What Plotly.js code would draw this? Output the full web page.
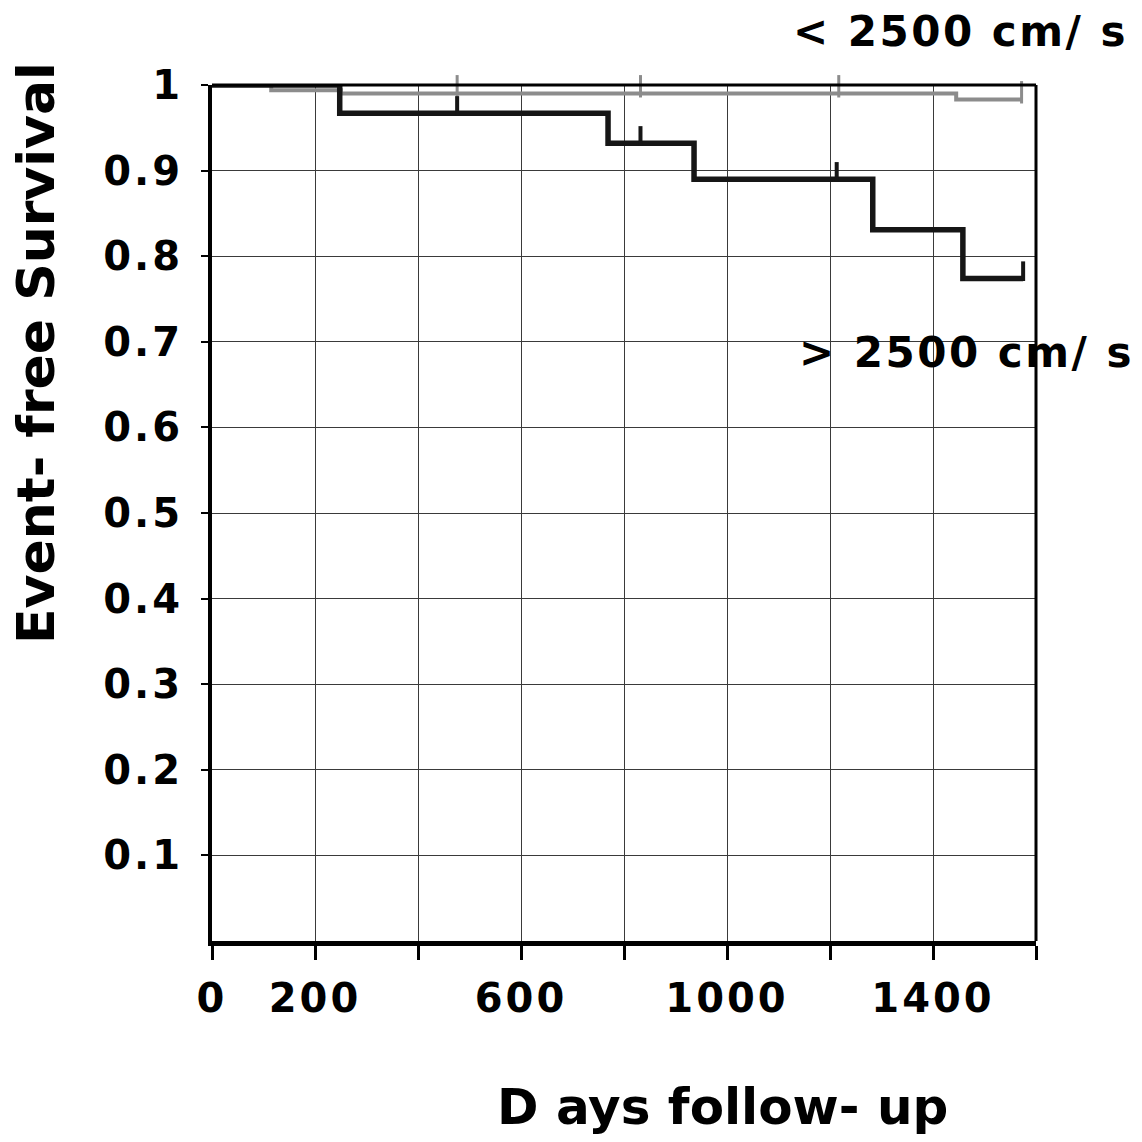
<!DOCTYPE html>
<html>
<head>
<meta charset="utf-8">
<script src="https://cdn.plot.ly/plotly-3.0.1.min.js"></script>
<style>
  html, body { margin: 0; padding: 0; background: #fff; }
  #chart { width: 1142px; height: 1142px; }
  .xtick text, .ytick text { letter-spacing: 3px; }
  .annotation[data-index="0"] text, .annotation[data-index="1"] text { letter-spacing: 2.5px; }
</style>
</head>
<body>
<div id="chart"></div>
<script>
// ---- data ----
// > 2500 cm/s group (dark step curve)
const highTimes = [0, 248, 769, 936, 1283, 1458, 1575];
const highSurv  = [1.0, 0.967, 0.932, 0.890, 0.831, 0.774, 0.774];
const highCensorTimes = [476, 832, 1213, 1575];
const highCensorSurv  = [0.967, 0.932, 0.890, 0.774];

// < 2500 cm/s group (grey step curve)
const lowTimes = [0, 115, 250, 1445, 1572];
const lowSurv  = [1.0, 0.994, 0.990, 0.983, 0.983];
const lowCensorTimes = [476, 832, 1217, 1572];
const lowCensorSurv  = [0.990, 0.990, 0.990, 0.983];

// axis ticks
const xTickVals = [0, 200, 400, 600, 800, 1000, 1200, 1400, 1600];
const xTickText = ['0', '200', '', '600', '', '1000', '', '1400', ''];
const yTickVals = [0.1, 0.2, 0.3, 0.4, 0.5, 0.6, 0.7, 0.8, 0.9, 1.0];
const yTickText = ['0.1', '0.2', '0.3', '0.4', '0.5', '0.6', '0.7', '0.8', '0.9', '1'];

const labelLow = '< 2500 cm/ s';
const labelHigh = '> 2500 cm/ s';
const xTitle = 'D ays follow- up';
const yTitle = 'Event- free Survival';

// ---- styling ----
const DARK = '#161616';
const GREY = '#8c8c8c';
const censorLift = 0.0085; // censor tick drawn upward from the curve

const font = { family: 'DejaVu Sans, Liberation Sans, Arial, sans-serif', weight: 700, color: '#000' };

const traces = [
  {
    x: lowTimes, y: lowSurv, type: 'scatter', mode: 'lines',
    line: { shape: 'hv', color: GREY, width: 4 }, hoverinfo: 'skip'
  },
  {
    x: lowCensorTimes, y: lowCensorSurv.map(v => v + censorLift), type: 'scatter', mode: 'markers',
    marker: { symbol: 'line-ns-open', size: 16, color: GREY, line: { color: GREY, width: 3 } },
    cliponaxis: false, hoverinfo: 'skip'
  },
  {
    x: highTimes, y: highSurv, type: 'scatter', mode: 'lines',
    line: { shape: 'hv', color: DARK, width: 5.5 }, hoverinfo: 'skip'
  },
  {
    x: highCensorTimes, y: highCensorSurv.map(v => v + censorLift), type: 'scatter', mode: 'markers',
    marker: { symbol: 'line-ns-open', size: 14, color: DARK, line: { color: DARK, width: 4 } },
    cliponaxis: false, hoverinfo: 'skip'
  }
];

const layout = {
  width: 1142, height: 1142,
  margin: { l: 212, r: 106, t: 85, b: 201, pad: 0 },
  paper_bgcolor: '#fff', plot_bgcolor: '#fff',
  showlegend: false,
  xaxis: {
    range: [0, 1600], tickvals: xTickVals, ticktext: xTickText,
    showgrid: true, gridcolor: '#3a3a3a', gridwidth: 1,
    showline: true, linecolor: '#000', linewidth: 5,
    ticks: 'outside', ticklen: 14, tickwidth: 3, tickcolor: '#000',
    ticklabelstandoff: 4,
    tickfont: Object.assign({ size: 40 }, font),
    zeroline: false, fixedrange: true
  },
  yaxis: {
    range: [0, 1], tickvals: yTickVals, ticktext: yTickText,
    showgrid: true, gridcolor: '#3a3a3a', gridwidth: 1,
    showline: true, linecolor: '#000', linewidth: 4,
    ticks: 'outside', ticklen: 7, tickwidth: 2, tickcolor: '#000',
    ticklabelstandoff: 10,
    tickfont: Object.assign({ size: 40 }, font),
    zeroline: false, fixedrange: true
  },
  shapes: [
    { type: 'line', xref: 'paper', yref: 'paper', x0: 0, x1: 1, y0: 1, y1: 1, line: { color: '#000', width: 3 } },
    { type: 'line', xref: 'paper', yref: 'paper', x0: 1, x1: 1, y0: 0, y1: 1, line: { color: '#000', width: 3 } }
  ],
  annotations: [
    { text: labelLow, xref: 'paper', yref: 'paper', x: 0.9078, y: 1.062, xanchor: 'center', yanchor: 'middle',
      showarrow: false, font: Object.assign({ size: 42 }, font) },
    { text: labelHigh, xref: 'paper', yref: 'paper', x: 0.9157, y: 0.688, xanchor: 'center', yanchor: 'middle',
      showarrow: false, font: Object.assign({ size: 42 }, font) },
    { text: xTitle, xref: 'paper', yref: 'paper', x: 0.619, y: -0.194, xanchor: 'center', yanchor: 'middle',
      showarrow: false, font: Object.assign({ size: 50 }, font) },
    { text: yTitle, xref: 'paper', yref: 'paper', x: -0.2136, y: 0.687, xanchor: 'center', yanchor: 'middle',
      textangle: -90, showarrow: false, font: Object.assign({ size: 52 }, font) }
  ]
};

Plotly.newPlot('chart', traces, layout, { staticPlot: true, displayModeBar: false });
</script>
</body>
</html>
